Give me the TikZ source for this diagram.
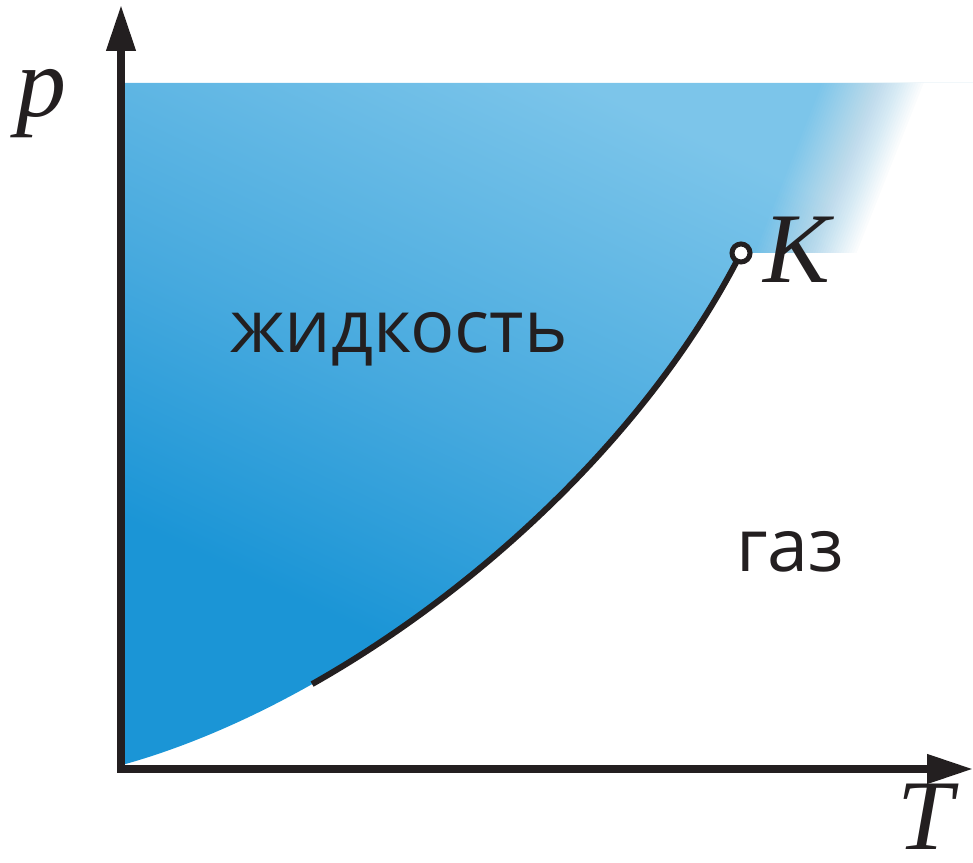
\documentclass[tikz,border=0pt]{standalone}
\usepackage{fontspec}
\usepackage{tikz}
\usetikzlibrary{arrows.meta}
\newfontfamily\regionfont{Open Sans}
\newfontfamily\letterfont{Liberation Serif}
\definecolor{ink}{HTML}{231F20}
\definecolor{liqdark}{HTML}{1B95D6}
\definecolor{liqmid}{HTML}{46A9DE}
\definecolor{liqlight}{HTML}{7CC5EA}
\pgfdeclareverticalshading{liquid}{100bp}{color(0bp)=(liqdark); color(32bp)=(liqdark);
  color(48bp)=(liqmid); color(72bp)=(liqlight); color(100bp)=(liqlight)}
\tikzset{
  axisline/.style={
    line width=3.75pt, draw=ink,
    {Triangle[length=23pt,width=14pt]}-{Triangle[length=23pt,width=14pt]}
  },
  phasecurve/.style={line width=3pt, draw=ink},
  critpoint/.style={
    circle, draw=ink, fill=white, line width=2.5pt,
    inner sep=0pt, minimum size=9pt
  },
  letterlabel/.style={
    font=\letterfont\itshape\fontsize{50}{50}\selectfont,
    text=ink, inner sep=0pt, anchor=base
  },
  regionlabel/.style={
    font=\regionfont\fontsize{36.8}{40}\selectfont,
    text=ink, inner sep=0pt, anchor=base
  },
}

\begin{document}
\begin{tikzpicture}[x=0.5pt, y=0.5pt]
  \useasboundingbox (0,0) rectangle (973,862);
  \coordinate (O) at (122,97);
  \coordinate (B) at (312.1,177.9);
  \coordinate (K) at (741,609);
  % liquid region with fade-out above K
  \begin{scope}
    \clip (O) .. controls (350,160) and (620,370) .. (K) -- (973,609)
      -- (973,779) -- (122,779) -- cycle;
    \shade[shading=liquid, shading angle=-25] (122,97) rectangle (973,779);
    \foreach \k [evaluate=\k as \fadeop using 1/(41-\k)] in {1,...,40}
      \fill[white, opacity=\fadeop] ({745+2.6*\k},590) -- ({828+2.6*\k},800)
        -- (990,800) -- (990,590) -- cycle;
  \end{scope}
  % coexistence curve
  \draw[phasecurve] (B) .. controls (484.9,275.5) and (652.4,434.5) .. (K);
  % axes
  \draw[axisline] (121,857) -- (121,93) -- (973,93);
  \node[critpoint] (kpt) at (K) {};
  \node[letterlabel] (plabel) at (42,745) {p};
  \node[letterlabel] (tlabel) at (925,13) {T};
  \node[letterlabel] (klabel) at (797,579) {K};
  \node[regionlabel] (liquid) at (399,509) {жидкость};
  \node[regionlabel] (gas) at (790,291) {газ};
\end{tikzpicture}
\end{document}
